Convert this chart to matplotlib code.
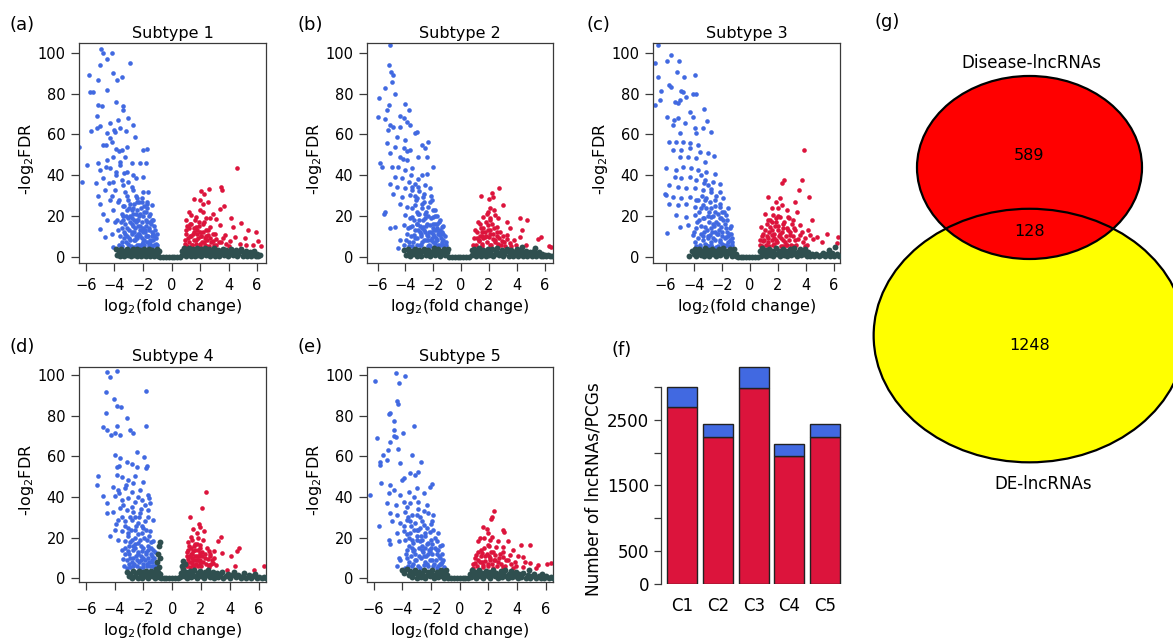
import matplotlib
matplotlib.use("Agg")
import matplotlib.pyplot as plt
from matplotlib.patches import Ellipse
import numpy as np

# ------------------------------------------------------------------ data
subtype_titles = ["Subtype 1", "Subtype 2", "Subtype 3", "Subtype 4", "Subtype 5"]
panel_letters = ["(a)", "(b)", "(c)", "(d)", "(e)", "(f)", "(g)"]
x_ticks = [-6, -4, -2, 0, 2, 4, 6]
y_ticks = [0, 20, 40, 60, 80, 100]

s1_blue = [(-4.98,102),(-4.79,99.7),(-4.2,99.7),(-4.56,96.7),(-5.0,94),(-2.92,94.8),(-5.79,88.9),(-5.14,86.6),(-4.09,90),(-3.8,86.6),(-3.5,88.2),(-5.72,80.9),(-5.49,80.9),(-4.51,81.7),(-5.14,74.3),(-4.91,73.9),(-3.86,76),(-3.43,73.9),(-3.39,71.9),(-5.21,69),(-5.68,61.6),(-5.02,64),(-4.32,65.4),(-3.74,67),(-3.08,67.8),(-2.69,64.5),(-3.62,63),(-3.2,61.8),(-4.56,60.5),(-3.97,61.3),(-6.5,54),(-4.6,55),(-4.2,56.4),(-3.86,53),(-3.5,52.3),(-3.15,54),(-2.57,58.8),(-1.99,52.3),(-1.75,52.6),(-5.14,46),(-5.96,45),(-6.31,36.8),(-4.56,47.4),(-4.09,49),(-3.62,46.6),(-3.27,49),(-2.8,45.8),(-2.22,45.8),(-1.8,46),(-5.02,42.5),(-4.32,43.3),(-3.86,41.7),(-3.15,41.7),(-2.69,40),(-2.03,39.2),(-4.79,38.4),(-4.09,36.8),(-3.5,37.6),(-3.04,36.8),(-2.5,38.4),(-5.3,36),(-5.14,29.7),(-4.67,32.7),(-3.97,32.7),(-3.27,31.9),(-2.69,32.7),(-1.99,31.9),(-1.64,31.9),(-5.02,26),(-4.32,27.8),(-3.74,27),(-3.04,27.8),(-2.45,28.6),(-1.75,26),(-1.4,25.3),(-4.79,21.2),(-4.09,22.9),(-3.5,21.2),(-2.8,22.9),(-2.22,21.2),(-1.52,21.2),(-5.02,13.4),(-4.56,18),(-3.97,17.2),(-3.39,18),(-2.92,17.2),(-2.34,18),(-1.75,17.2),(-1.4,18),(-4.67,9.8),(-4.2,11.4),(-3.74,13),(-3.27,11.4),(-2.8,12.2),(-2.34,11.4),(-1.87,13),(-1.28,11.4),(-4.09,4.9),(-3.5,7.4),(-3.04,6.5),(-2.57,8.2),(-2.1,6.5),(-1.52,7.4),(-1.05,5.7),(-3.4,25),(-3.2,20),(-3.0,24),(-2.8,19),(-2.6,26),(-2.4,23),(-2.2,15),(-2.0,20),(-1.8,22),(-1.6,14),(-1.4,10),(-3.5,14),(-3.3,9),(-3.1,14),(-2.9,8),(-2.7,15),(-2.5,10),(-2.3,6),(-2.1,13),(-1.9,8),(-1.7,10),(-1.5,6),(-1.3,8),(-1.1,9),(-3.6,10),(-3.0,4.8),(-2.6,5),(-2.0,4.7),(-1.6,4.9),(-3.8,18),(-3.7,28),(-3.4,35),(-3.1,30),(-2.8,34),(-2.5,30),(-2.3,27),(-2.1,29),(-1.9,25),(-1.7,27),(-2.7,21),(-2.4,18),(-2.2,10),(-2.0,12),(-1.8,15),(-1.5,17),(-1.2,15),(-3.3,41),(-3.6,45),(-3.9,40),(-4.2,30),(-4.4,36),(-4.6,44),(-4.8,55),(-5.2,63),(-4.3,58),(-4.0,62),(-3.7,52)]
s1_blue_core = [(-3.65,6),(-3.55,17),(-3.45,5.5),(-3.4,20),(-3.35,12),(-3.25,16),(-3.2,7),(-3.15,23),(-3.1,10),(-3.05,19),(-2.95,13),(-2.9,26),(-2.85,5.2),(-2.75,11),(-2.7,24),(-2.65,18),(-2.6,8),(-2.55,14),(-2.5,21),(-2.45,6),(-2.4,27),(-2.35,15),(-2.3,11),(-2.25,20),(-2.2,5.5),(-2.15,24),(-2.1,17),(-2.05,9),(-2.0,14),(-1.95,22),(-1.9,5.8),(-1.85,12),(-1.8,18),(-1.75,7),(-1.7,24),(-1.65,10),(-1.6,20),(-1.55,13),(-1.5,8),(-1.45,16),(-1.4,5.3),(-1.35,12),(-1.3,18),(-1.25,6),(-1.2,10),(-1.15,13),(-1.1,6.5),(-1.05,11),(-3.0,9),(-2.8,16),(-2.6,12),(-2.4,9),(-2.2,13),(-2.0,7),(-1.8,10),(-1.6,6),(-3.3,25),(-2.9,20),(-2.5,17),(-2.1,27)]
s1_red = [(4.6,43.6),(3.5,34.3),(3.55,32.7),(2.64,33),(2.06,32.2),(2.27,31),(1.57,28.3),(1.99,27.8),(2.22,25.8),(2.57,27),(3.69,25),(3.39,23.2),(1.99,22.9),(2.22,22),(2.92,21.2),(1.4,20.4),(1.75,19.6),(2.45,18.8),(3.1,18.3),(4.2,18.8),(4.91,16.7),(1.05,18),(1.29,16.3),(1.75,14.7),(2.22,16.3),(2.69,14.7),(3.39,15.5),(4.32,14.7),(5.37,13),(5.96,12.2),(1.05,13),(1.52,11.4),(1.99,12.2),(2.57,10.6),(3.04,11.4),(3.74,10.6),(4.44,9.8),(5.14,9),(6.07,7.8),(1.17,9),(1.75,8.2),(2.34,9),(2.92,7.8),(3.5,7.4),(4.09,7.8),(4.79,6.5),(5.72,5.7),(6.3,5.2),(0.93,6.5),(1.47,5.7),(1.99,6.2),(2.45,5.2),(3.15,5.7),(3.85,6.2),(5.26,5.6),(1.3,10),(1.6,14),(1.9,17),(2.1,10),(2.4,13),(1.2,22),(2.7,19),(1.8,11),(2.3,7),(1.1,15)]
s1_red_core = [(0.95,8),(1.05,11),(1.1,5.5),(1.2,14),(1.25,7),(1.35,10),(1.4,16),(1.45,6),(1.55,12),(1.6,8),(1.65,18),(1.75,6.5),(1.8,13),(1.85,9),(1.95,15),(2.0,5.3),(2.05,10),(2.15,7),(2.2,12),(2.25,17),(2.35,6),(2.4,10),(2.5,8),(2.55,13),(2.65,5.5),(2.7,9),(2.8,7),(2.9,11),(3.0,6),(3.1,8.5),(3.3,7),(3.6,9),(4.0,5.5)]
s1_gray = [(-3.9,3.6),(-3.8,1.0),(-3.7,2.4),(-3.6,0.2),(-3.55,3.9),(-3.45,1.6),(-3.35,3.0),(-3.3,0.4),(-3.2,2.2),(-3.1,3.8),(-3.05,0.9),(-2.95,2.9),(-2.85,0.2),(-2.8,1.8),(-2.7,3.6),(-2.6,0.8),(-2.55,2.6),(-2.45,4.0),(-2.4,0.3),(-2.3,1.7),(-2.2,3.2),(-2.15,0.6),(-2.05,2.4),(-1.95,3.9),(-1.9,1.1),(-1.8,0.2),(-1.75,2.8),(-1.65,1.6),(-1.6,4.0),(-1.5,0.5),(-1.45,2.3),(-1.35,3.4),(-1.3,1.2),(-1.2,0.2),(-1.15,2.6),(-1.05,3.9),(-1.0,1.5),(-0.95,0.4),(-0.9,2.8),(-0.8,0),(-0.6,0),(-0.4,0),(-0.2,0),(0.0,0),(0.2,0),(0.4,0),(0.6,0),(0.72,3.0),(0.75,0.8),(0.85,4.2),(0.9,1.8),(1.0,0.2),(1.05,3.2),(1.15,1.2),(1.25,4.3),(1.3,2.4),(1.4,0.5),(1.5,3.6),(1.55,1.6),(1.65,0.2),(1.7,2.8),(1.8,4.2),(1.85,1.0),(1.95,2.2),(2.05,3.8),(2.1,0.4),(2.2,1.6),(2.3,3.0),(2.35,4.3),(2.45,0.8),(2.55,2.2),(2.65,3.8),(2.7,0.2),(2.8,1.4),(2.9,3.0),(3.0,4.1),(3.05,0.6),(3.15,2.0),(3.25,3.4),(3.35,0.2),(3.4,1.4),(3.5,2.8),(3.6,4.0),(3.65,0.8),(3.75,2.0),(3.85,3.4),(3.95,0.3),(4.0,1.6),(4.1,2.8),(4.2,4.0),(4.3,0.8),(4.4,2.0),(4.5,3.2),(4.6,0.2),(4.7,1.4),(4.8,2.6),(4.9,3.6),(5.0,0.6),(5.1,1.8),(5.2,2.8),(5.3,0.2),(5.4,1.2),(5.5,2.4),(5.6,0.6),(5.7,1.8),(5.8,3.0),(5.9,0.3),(6.0,1.4),(6.1,0.4),(6.2,0.9)]

s2_blue = [(-5.1,103.8),(-5.2,94),(-5.04,90.7),(-4.86,89),(-5.0,85.8),(-5.5,82.5),(-5.93,77.6),(-4.74,80),(-4.02,75),(-5.17,74.3),(-6.0,68.6),(-5.45,67.3),(-5.33,71.9),(-4.38,69),(-4.14,67.8),(-3.78,71.9),(-5.1,64.5),(-4.86,63.7),(-4.38,63.7),(-3.9,66.2),(-3.66,64.5),(-3.3,60.5),(-3.18,61.3),(-5.28,62),(-4.62,58.8),(-4.02,57.2),(-2.35,56.4),(-2.83,54.7),(-5.33,55.6),(-4.74,53.9),(-4.14,53.1),(-3.66,52.3),(-2.59,53.1),(-3.07,49),(-5.1,50.7),(-4.38,49),(-3.9,47.4),(-2.47,49),(-1.99,44.1),(-5.81,45.8),(-5.69,44.1),(-4.98,44.1),(-4.5,44.1),(-4.02,42.5),(-3.54,43.3),(-2.83,40),(-2.47,40.8),(-4.74,39.2),(-4.26,38.4),(-3.78,36.8),(-3.3,35.9),(-5.1,35.9),(-4.62,34.3),(-4.02,33.5),(-3.54,32.7),(-3.07,34.3),(-2.23,33.5),(-4.86,31),(-4.26,29.4),(-3.66,30.2),(-3.18,28.6),(-2.71,29.4),(-2.11,27.8),(-5.45,22),(-5.52,21.2),(-4.38,26.1),(-3.9,24.5),(-3.3,25.3),(-2.83,23.7),(-2.35,24.5),(-1.87,22.9),(-4.02,20.4),(-3.54,19.6),(-3.07,21.2),(-2.59,18.8),(-1.99,19.6),(-1.51,18),(-5.13,13.9),(-4.74,14.7),(-4.14,15.5),(-3.66,14.7),(-3.18,16.3),(-2.71,14.7),(-2.23,15.5),(-1.75,13.9),(-1.39,14.7),(-3.9,11.4),(-3.42,10.6),(-2.95,12.2),(-2.47,10.6),(-1.99,11.4),(-1.51,10.6),(-4.38,8.2),(-3.78,7.4),(-3.3,9),(-2.83,7.4),(-2.35,8.2),(-1.87,7.4),(-1.27,8.2),(-4.5,4.4),(-4.14,5.7),(-3.54,5.2),(-2.95,5.7),(-2.23,5.2),(-1.63,5.7),(-1.09,5.7),(-3.2,22),(-3.0,18),(-2.8,26),(-2.6,12),(-2.4,20),(-2.2,12),(-2.0,16),(-1.8,9),(-1.6,12),(-1.4,6),(-3.4,18),(-3.1,13),(-2.9,10),(-2.7,8),(-2.5,15),(-2.3,6),(-2.1,9),(-1.9,20),(-1.7,16),(-1.3,11),(-3.3,30),(-3.0,32),(-2.7,27),(-3.6,40),(-3.9,52),(-4.2,48),(-3.5,15),(-3.2,6),(-2.6,21),(-2.0,7)]
s2_blue_core = [(-3.95,8),(-3.85,14),(-3.75,5.5),(-3.65,19),(-3.6,10),(-3.5,24),(-3.45,7),(-3.35,13),(-3.25,28),(-3.2,16),(-3.15,9),(-3.05,21),(-2.95,15),(-2.9,6),(-2.85,11),(-2.75,18),(-2.7,31),(-2.65,13),(-2.55,8),(-2.5,22),(-2.45,16),(-2.4,5.5),(-2.3,12),(-2.25,27),(-2.2,19),(-2.15,8),(-2.05,14),(-2.0,23),(-1.95,10),(-1.9,6),(-1.85,16),(-1.8,13),(-1.75,20),(-1.7,8),(-1.65,11),(-1.6,17),(-1.55,6),(-1.5,13),(-1.45,9),(-1.4,12),(-1.35,7),(-1.3,15),(-1.2,6),(-1.15,10),(-1.1,7),(-3.55,34),(-3.1,38),(-2.6,35),(-2.2,30),(-2.8,14),(-2.35,10),(-1.95,13)]
s2_red = [(2.68,33.8),(2.18,31.4),(2.3,29.4),(1.4,29.9),(2.02,28.1),(3.02,25.3),(2.06,23.7),(2.35,22.9),(1.83,21.2),(2.42,20.4),(4.21,18.8),(4.74,18),(1.59,19.6),(2.06,18),(2.66,18.8),(3.26,17.2),(1.35,16.3),(1.95,15.5),(2.54,14.7),(3.49,13.9),(4.33,13),(0.99,13),(1.47,12.2),(2.06,11.4),(2.78,12.2),(3.26,10.6),(4.21,9.8),(5.52,8.5),(5.76,9.5),(1.11,9),(1.71,9.5),(2.3,8.5),(2.9,7.8),(3.49,6.9),(3.97,6),(4.68,5.7),(6.3,5.2),(6.48,4.6),(0.87,5.7),(1.47,6.5),(2.06,5.7),(2.66,6.5),(3.14,5.2),(1.3,8),(1.6,14),(1.8,10),(2.2,16),(2.4,7),(2.6,10),(1.2,17),(1.9,22),(2.1,13),(1.5,10)]
s2_red_core = [(0.95,9),(1.05,6),(1.15,12),(1.25,7.5),(1.35,10),(1.45,14),(1.5,5.5),(1.6,9),(1.7,12),(1.75,17),(1.85,7),(1.9,13),(2.0,9.5),(2.1,19),(2.15,6),(2.25,11),(2.35,14),(2.45,8),(2.55,12),(2.65,5.5),(2.75,9),(2.85,6),(3.0,10),(3.1,7),(3.3,8.5),(3.6,5.5),(3.8,8)]
s2_gray = [(-4.1,3.2),(-3.95,1.0),(-3.85,3.8),(-3.75,2.0),(-3.65,0.3),(-3.55,3.0),(-3.45,1.2),(-3.35,4.0),(-3.25,2.2),(-3.15,0.4),(-3.05,3.4),(-2.95,1.5),(-2.85,0.2),(-2.75,2.6),(-2.65,4.0),(-2.55,0.9),(-2.45,2.0),(-2.35,3.5),(-2.25,0.3),(-2.15,1.6),(-2.05,3.0),(-1.95,4.1),(-1.85,0.7),(-1.75,2.2),(-1.65,3.6),(-1.55,0.2),(-1.45,1.4),(-1.35,2.8),(-1.25,4.0),(-1.15,0.8),(-1.05,2.2),(-0.98,3.6),(-0.85,0),(-0.65,0),(-0.45,0),(-0.25,0),(-0.05,0),(0.15,0),(0.35,0),(0.55,0),(0.75,3.2),(0.8,1.0),(0.9,4.0),(0.95,2.0),(1.05,0.2),(1.15,3.0),(1.2,1.2),(1.3,4.2),(1.4,2.2),(1.45,0.4),(1.55,3.4),(1.65,1.4),(1.75,0.2),(1.8,2.6),(1.9,4.0),(2.0,1.0),(2.1,2.2),(2.2,3.6),(2.3,0.4),(2.4,1.6),(2.5,3.0),(2.6,4.1),(2.7,0.8),(2.8,2.0),(2.9,3.4),(3.0,0.2),(3.1,1.4),(3.2,2.8),(3.3,4.0),(3.4,0.6),(3.5,1.8),(3.6,3.2),(3.7,0.2),(3.8,1.2),(3.9,2.6),(4.0,3.8),(4.1,0.6),(4.2,1.8),(4.3,3.0),(4.4,4.8),(4.45,0.3),(4.55,1.4),(4.65,2.6),(4.75,0.2),(4.85,1.2),(4.95,2.2),(5.05,0.5),(5.15,1.6),(5.25,3.0),(5.3,4.4),(5.4,0.3),(5.5,1.2),(5.6,2.2),(5.7,0.5),(5.8,1.4),(5.9,0.2),(6.0,1.0),(6.1,0.3),(6.25,0.8),(6.4,0.2),(6.5,0.6)]

s3_blue = [(-6.55,103.8),(-6.79,94.8),(-6.55,88.2),(-5.88,95.9),(-5.6,98.9),(-5.05,95.9),(-5.19,90.7),(-4.69,88.2),(-3.88,88.9),(-6.31,81.4),(-5.76,84.2),(-5.6,83.3),(-4.88,81.4),(-4.76,80.9),(-4.57,78.4),(-4.05,80),(-3.86,79.7),(-6.79,74.3),(-6.43,76.8),(-5.36,76),(-5.12,75.2),(-5.0,76.8),(-3.29,72.2),(-4.29,71.1),(-5.9,68.6),(-5.4,67),(-5.12,67.8),(-4.05,68.6),(-4.64,65.4),(-5.48,64.5),(-3.02,66.7),(-3.33,62.9),(-3.93,62.9),(-2.74,61.3),(-5.0,60.5),(-3.81,60.5),(-5.76,56.4),(-5.24,56.4),(-4.76,56.4),(-4.29,55.6),(-3.69,54.7),(-5.48,52.3),(-4.88,52.3),(-4.29,53.1),(-3.57,51.5),(-2.98,50.7),(-5.0,49),(-4.4,49),(-3.81,48.2),(-3.21,46.6),(-2.57,49.3),(-6.0,43.3),(-5.24,42.5),(-4.76,44.1),(-4.17,43.3),(-3.69,42.5),(-3.1,41.7),(-2.5,40.8),(-5.36,39.2),(-4.88,38.4),(-4.29,39.2),(-3.81,37.6),(-3.21,37.6),(-2.62,36.8),(-2.14,35.9),(-5.76,35.1),(-5.12,34.3),(-4.52,33.5),(-3.93,33.5),(-3.33,32.7),(-2.74,31.9),(-2.14,31.9),(-6.07,31),(-6.0,30.2),(-5.48,29.4),(-4.88,28.6),(-4.29,29.4),(-3.69,27.8),(-3.1,28.6),(-2.5,27.8),(-1.9,28.6),(-5.76,26.1),(-5.12,25.3),(-4.52,26.1),(-3.93,24.5),(-3.33,25.3),(-2.74,23.7),(-2.14,24.5),(-1.55,23.7),(-5.24,20.4),(-4.52,19.6),(-3.93,20.4),(-3.33,18.8),(-2.74,19.6),(-2.14,18.8),(-1.67,20.4),(-5.0,14.7),(-4.4,15.5),(-3.81,13.9),(-3.21,14.7),(-2.62,16.3),(-2.02,14.7),(-1.43,13.9),(-5.9,11.8),(-4.05,10.6),(-3.45,11.4),(-2.86,10.6),(-2.26,11.4),(-1.67,9.8),(-1.31,11.4),(-3.93,7.4),(-3.33,8.2),(-2.74,7.4),(-2.14,8.2),(-1.55,7.4),(-3.57,4.9),(-2.98,5.2),(-2.38,4.9),(-1.79,5.2),(-1.24,5.7),(-3.6,18),(-3.3,12),(-3.0,20),(-2.8,14),(-2.6,9),(-2.4,17),(-2.2,13),(-2.0,10),(-1.8,16),(-1.6,12),(-1.4,8),(-3.5,24),(-3.2,28),(-2.9,22),(-2.5,25),(-2.3,21),(-1.9,18),(-1.7,6),(-3.1,6),(-2.7,4.8),(-3.0,35),(-3.5,40),(-2.4,30),(-2.0,22)]
s3_blue_core = [(-3.95,12),(-3.85,5.5),(-3.75,17),(-3.7,9),(-3.6,22),(-3.55,6),(-3.45,15),(-3.4,30),(-3.35,10),(-3.25,19),(-3.2,6.5),(-3.15,24),(-3.05,13),(-2.95,9),(-2.9,17),(-2.85,27),(-2.8,6),(-2.7,12),(-2.65,20),(-2.55,15),(-2.5,8),(-2.45,22),(-2.35,11),(-2.3,5.5),(-2.25,16),(-2.15,26),(-2.1,7),(-2.05,19),(-1.95,12),(-1.9,6),(-1.85,22),(-1.75,9),(-1.7,14),(-1.6,18),(-1.55,10),(-1.5,5.5),(-1.45,11),(-1.35,15),(-1.3,7),(-1.25,9),(-3.85,28),(-3.3,36),(-2.8,33),(-2.45,12),(-2.0,6.5),(-3.0,10)]
s3_red = [(3.86,52.3),(3.69,37.6),(2.43,37.6),(2.33,36.3),(3.52,32.7),(4.19,29.4),(1.31,29.4),(2.14,28.6),(1.9,27),(3.21,27),(2.26,25.3),(1.55,23.7),(2.02,23.7),(2.62,22.9),(3.33,22),(1.07,21.2),(1.67,20.4),(2.14,19.6),(2.74,19.6),(3.1,18),(4.45,18),(1.31,18),(1.9,17.2),(2.38,16.3),(2.98,16.3),(3.57,15.5),(0.83,14.7),(1.43,14.7),(2.02,13),(2.62,13.9),(3.21,13),(4.17,13),(0.95,11.4),(1.55,10.6),(2.14,11.4),(2.86,10.6),(3.57,10.6),(4.29,10.6),(4.81,9.5),(5.52,11.1),(6.31,9.5),(0.71,8.2),(1.31,7.4),(1.9,8.2),(2.5,7.4),(3.21,8.2),(3.81,7.4),(4.52,8.5),(5.12,7.4),(6.19,6.9),(0.9,5.2),(1.67,5.7),(2.38,5.2),(3.1,5.2),(3.93,5.2),(1.4,12),(1.7,9),(1.8,15),(2.0,20),(2.2,9),(2.4,14),(2.6,6),(1.2,10),(2.8,19),(1.6,17),(1.0,8),(2.9,12)]
s3_red_core = [(0.75,6),(0.85,10),(0.95,7.5),(1.05,13),(1.15,6),(1.2,16),(1.3,9),(1.4,5.5),(1.45,18),(1.55,8),(1.6,13),(1.7,6.5),(1.75,11),(1.85,19),(1.95,7),(2.0,15),(2.1,10),(2.2,5.5),(2.3,12),(2.4,8),(2.45,17),(2.55,10),(2.65,6),(2.7,13),(2.8,8),(2.95,6),(3.05,10),(3.15,14),(3.3,6),(3.45,8.5),(3.7,12),(3.9,9),(4.1,6)]
s3_gray = [(-4.3,0.6),(-4.15,2.8),(-4.0,1.2),(-3.9,3.8),(-3.8,0.2),(-3.7,2.2),(-3.6,4.0),(-3.5,1.0),(-3.4,2.8),(-3.3,0.3),(-3.2,4.2),(-3.1,1.8),(-3.0,3.2),(-2.9,0.6),(-2.8,2.2),(-2.7,4.0),(-2.6,1.2),(-2.5,3.0),(-2.4,0.2),(-2.3,1.8),(-2.2,3.8),(-2.1,0.8),(-2.0,2.6),(-1.9,4.2),(-1.8,1.4),(-1.7,0.2),(-1.6,3.0),(-1.5,1.8),(-1.4,4.0),(-1.3,0.6),(-1.2,2.4),(-1.1,3.6),(-1.0,1.2),(-0.95,0.2),(-0.85,0),(-0.65,0),(-0.45,0),(-0.25,0),(-0.05,0),(0.15,0),(0.35,0),(0.55,0),(0.72,2.6),(0.78,0.6),(0.85,4.4),(0.95,1.6),(1.05,3.2),(1.15,0.2),(1.25,2.2),(1.35,4.0),(1.45,1.0),(1.55,3.0),(1.65,0.3),(1.75,2.0),(1.85,4.2),(1.95,1.2),(2.05,3.0),(2.15,0.4),(2.25,2.2),(2.35,4.0),(2.45,1.0),(2.55,2.8),(2.65,0.2),(2.75,1.8),(2.85,3.8),(2.95,0.8),(3.05,2.6),(3.15,4.2),(3.25,1.4),(3.35,0.2),(3.45,2.2),(3.55,3.8),(3.65,0.8),(3.75,2.8),(3.85,1.6),(3.95,4.0),(4.05,0.4),(4.15,2.2),(4.3,0.6),(4.45,1.6),(4.6,0.3),(4.75,1.2),(4.9,0.2),(5.05,0.9),(5.2,1.8),(5.35,0.3),(5.5,1.2),(5.65,3.4),(5.7,0.4),(5.85,2.0),(6.0,0.6),(6.1,4.6),(6.2,1.2),(6.35,0.3)]

s4_blue = [(-4.56,101.3),(-3.86,102.1),(-4.33,98.9),(-4.63,91.8),(-1.85,92.1),(-4.03,88.1),(-3.86,84.8),(-3.58,84.5),(-4.61,81.5),(-3.17,79),(-1.85,75.1),(-4.79,74.3),(-4.51,73),(-3.86,75),(-4.26,70.5),(-3.96,71.7),(-3.63,70.5),(-2.93,73),(-2.7,71.4),(-3.98,60.7),(-3.63,59.4),(-2.47,62.4),(-1.94,59.9),(-3.86,55),(-3.67,55.3),(-3.17,57.4),(-2.82,56.3),(-2.47,55),(-1.78,55.3),(-1.85,54.5),(-5.14,50.4),(-5.19,46),(-3.86,50.9),(-3.51,50.1),(-3.05,48.4),(-2.7,46.8),(-2.59,50.6),(-2.05,47.6),(-4.79,40.3),(-4.56,37),(-4.56,32.1),(-4.33,20.9),(-4.1,45.2),(-3.74,43.5),(-3.28,44.4),(-2.82,42.7),(-2.24,43.5),(-1.66,41.1),(-1.59,39.4),(-3.98,40.3),(-3.51,38.6),(-3.05,39.4),(-2.59,37.8),(-2.12,38.6),(-1.54,37),(-4.1,32.9),(-3.63,34.5),(-3.17,33.7),(-2.7,32.9),(-2.24,32.1),(-1.66,33.7),(-1.36,28.8),(-3.74,28.8),(-3.28,28),(-2.82,28.8),(-2.35,27.2),(-1.89,28),(-3.98,23.9),(-3.51,23.1),(-3.05,22.3),(-2.59,23.9),(-2.12,22.3),(-1.54,23.1),(-3.74,19),(-3.28,18.2),(-2.82,19),(-2.35,17.3),(-1.78,19),(-1.31,18.2),(-3.51,14.1),(-3.05,13.3),(-2.59,14.9),(-2.12,13.3),(-1.66,14.1),(-3.44,9.5),(-2.93,10),(-2.47,9.2),(-2.01,10),(-1.43,9.2),(-3.17,5.1),(-2.7,5.9),(-2.24,5.1),(-1.78,5.9),(-1.27,5.6),(-3.3,12),(-3.0,16),(-2.8,8),(-2.6,20),(-2.4,12),(-2.2,16),(-2.0,7),(-1.8,12),(-1.6,8),(-1.4,11),(-3.1,25),(-2.9,30),(-2.5,26),(-2.3,30),(-2.0,25),(-3.4,36),(-3.7,42),(-3.2,46),(-3.5,30),(-3.9,27),(-2.7,16),(-2.2,9),(-1.5,15),(-3.0,7)]
s4_blue_core = [(-3.35,6),(-3.25,15),(-3.15,9),(-3.1,21),(-3.0,12),(-2.95,5.5),(-2.9,18),(-2.85,24),(-2.75,10),(-2.7,14),(-2.65,7),(-2.6,30),(-2.55,17),(-2.5,11),(-2.45,6),(-2.4,22),(-2.35,13),(-2.3,8),(-2.25,19),(-2.15,11),(-2.1,26),(-2.05,15),(-2.0,5.5),(-1.95,20),(-1.9,9),(-1.85,13),(-1.8,24),(-1.75,7),(-1.7,16),(-1.65,10),(-1.6,21),(-1.55,6),(-1.5,12),(-1.45,18),(-1.4,8),(-1.35,14),(-1.3,6),(-1.25,10),(-1.2,13),(-1.15,7),(-2.8,35),(-2.4,40),(-1.9,36),(-1.7,30),(-2.2,34),(-3.3,26)]
s4_red = [(2.33,42.7),(2.05,34.5),(1.24,30.1),(1.89,26.8),(1.94,25.5),(1.47,24.2),(2.22,23.1),(1.7,22.3),(3.4,20.3),(1.29,20.6),(1.82,19.8),(2.17,19),(3.21,18.2),(1.12,17.7),(1.59,17),(1.94,16.5),(2.4,14.9),(2.93,13.7),(4.67,15.2),(1.12,14.1),(1.47,13.3),(1.94,12.4),(2.52,13.3),(3.45,12.4),(4.07,11.1),(4.49,13.3),(1.01,10.8),(1.36,10),(1.82,9.2),(2.28,10),(2.75,9.2),(1.01,7.5),(1.47,6.7),(1.94,7.5),(2.52,6.7),(3.05,6.7),(4.37,6.2),(6.35,6.2),(3.8,4.3),(5.65,4.3),(1.3,12),(1.5,16),(1.7,11),(1.2,8),(1.6,9),(1.4,19),(1.8,14),(2.6,11),(2.7,7),(2.1,11)]
s4_red_core = [(1.0,13),(1.05,6),(1.1,9.5),(1.15,16),(1.2,11),(1.25,5.5),(1.3,15),(1.35,7.5),(1.4,12),(1.45,9),(1.5,5.5),(1.55,14),(1.6,11),(1.65,7),(1.7,17),(1.75,9),(1.8,6),(1.85,11),(1.9,15),(1.95,9),(2.0,6),(2.05,13),(2.15,8),(2.25,12),(2.35,7),(2.45,9.5),(2.55,5.5),(2.65,12),(2.8,7.5),(2.9,10)]
s4_gray = [(-3.15,3.0),(-3.0,1.0),(-2.9,2.4),(-2.8,0.2),(-2.7,3.6),(-2.6,1.4),(-2.5,2.8),(-2.4,0.4),(-2.3,3.8),(-2.2,1.8),(-2.1,0.2),(-2.0,3.0),(-1.9,1.2),(-1.8,3.8),(-1.7,0.4),(-1.6,2.4),(-1.5,3.6),(-1.4,1.0),(-1.3,2.8),(-1.2,0.2),(-1.15,4.5),(-1.1,1.8),(-1.05,8.0),(-1.0,3.2),(-0.98,12.0),(-0.95,0.6),(-0.92,16.0),(-0.9,5.6),(-0.87,10.0),(-0.85,2.4),(-0.82,18.0),(-0.8,0),(-0.6,0),(-0.4,0),(-0.2,0),(0.0,0),(0.2,0),(0.4,0),(0.55,0.6),(0.62,2.6),(0.68,6.0),(0.72,8.6),(0.78,4.4),(0.82,1.2),(0.88,7.0),(0.95,3.0),(1.0,0.3),(1.1,2.0),(1.2,3.6),(1.3,0.8),(1.4,2.6),(1.5,4.0),(1.6,1.4),(1.7,0.2),(1.8,2.8),(1.9,3.8),(2.0,1.0),(2.1,2.2),(2.2,0.3),(2.3,3.4),(2.4,1.6),(2.5,4.0),(2.6,0.6),(2.7,2.2),(2.8,3.2),(2.9,0.2),(3.0,1.4),(3.1,2.6),(3.2,0.5),(3.3,1.8),(3.45,3.0),(3.55,0.3),(3.7,1.4),(3.85,2.4),(4.0,0.4),(4.15,1.6),(4.3,3.2),(4.45,0.6),(4.6,1.8),(4.75,0.2),(4.9,1.2),(5.0,2.6),(5.15,0.4),(5.3,1.6),(5.45,0.2),(5.6,1.0),(5.75,2.2),(5.9,0.3),(6.05,0.8),(6.2,0.2),(6.35,0.5),(6.5,0.2)]

s5_blue = [(-4.47,101.1),(-3.84,99.5),(-4.21,95.9),(-5.93,97.2),(-4.38,87.4),(-4.33,85.8),(-4.88,81.5),(-4.95,80.9),(-4.56,77.4),(-3.17,75),(-5.76,68.9),(-4.61,73),(-4.61,70),(-4.42,69.4),(-4.84,67.3),(-3.96,71.4),(-5.02,63.2),(-4.33,63.5),(-5.35,60.7),(-5.53,57.4),(-5.07,58.3),(-5.58,55.8),(-4.14,56.6),(-3.33,60.7),(-2.69,57.1),(-5.49,47.1),(-6.23,41.1),(-4.88,46),(-4.03,48.4),(-3.91,49.3),(-3.45,51.7),(-2.87,52.5),(-3.1,50.9),(-1.94,46.5),(-2.06,45.2),(-4.95,41.9),(-4.61,43.5),(-4.14,41.1),(-3.56,42.7),(-2.99,44.4),(-2.52,41.9),(-5.07,37),(-4.42,36.2),(-3.91,37.8),(-3.45,37),(-2.87,37.8),(-2.29,36.2),(-5.65,25.9),(-4.84,32.1),(-4.38,31.3),(-3.8,32.9),(-3.33,31.3),(-2.75,30.4),(-2.18,32.1),(-1.83,31.3),(-4.72,28),(-4.14,27.2),(-3.68,28.8),(-3.1,27.2),(-2.52,26.4),(-1.94,28),(-4.95,18.7),(-4.84,17),(-4.38,22.3),(-3.91,23.1),(-3.45,22.3),(-2.87,23.9),(-2.41,22.3),(-1.83,23.9),(-1.48,22.3),(-4.26,18.2),(-3.8,19),(-3.22,17.3),(-2.75,18.2),(-2.18,17.3),(-1.6,18.2),(-1.25,16.5),(-4.26,10),(-4.14,9.2),(-4.38,5.9),(-3.68,14.1),(-3.22,13.3),(-2.64,14.1),(-2.06,13.3),(-1.48,14.1),(-3.68,10),(-3.1,9.2),(-2.52,10.8),(-1.94,9.2),(-1.37,10),(-3.8,5.1),(-3.33,5.9),(-2.75,5.1),(-2.18,5.9),(-1.6,5.1),(-1.09,5.6),(-3.5,20),(-3.3,15),(-3.0,19),(-2.8,11),(-2.6,16),(-2.4,8),(-2.2,12),(-2.0,19),(-1.8,7),(-1.6,12),(-1.4,7),(-3.4,26),(-3.0,24),(-2.6,28),(-2.3,25),(-3.7,35),(-3.2,40),(-2.9,34),(-3.5,8),(-1.2,8),(-2.7,21),(-2.4,15),(-2.0,15),(-3.1,12)]
s5_blue_core = [(-3.75,12),(-3.65,22),(-3.6,6),(-3.55,16),(-3.45,28),(-3.4,11),(-3.35,19),(-3.25,7),(-3.2,24),(-3.15,14),(-3.05,9),(-2.95,21),(-2.9,6),(-2.85,15),(-2.75,25),(-2.7,10),(-2.65,19),(-2.55,13),(-2.5,6.5),(-2.45,21),(-2.35,11),(-2.3,17),(-2.25,7),(-2.15,14),(-2.1,23),(-2.05,9),(-1.95,17),(-1.9,12),(-1.85,6),(-1.75,15),(-1.7,20),(-1.65,9),(-1.55,14),(-1.5,6),(-1.45,11),(-1.35,16),(-1.3,7),(-1.25,12),(-1.15,9),(-3.6,30),(-3.0,31),(-2.5,33),(-2.0,27),(-3.9,26)]
s5_red = [(2.38,33.4),(2.29,30.4),(2.18,29.1),(1.64,25.5),(1.88,24.2),(1.99,22.3),(2.27,20.6),(3.03,23.9),(3.1,22.6),(1.41,19.8),(1.3,18.2),(2.11,19),(2.69,18.2),(3.38,18.2),(1.99,16.5),(2.57,15.4),(3.03,15.7),(3.73,14.1),(4.31,16.4),(4.93,16.5),(1.13,11.6),(1.53,12.4),(2.06,10.8),(2.45,11.6),(3.03,10.5),(3.5,11.6),(4.07,10.8),(4.42,10.5),(1.06,7.5),(1.53,8.3),(2.11,9.2),(2.69,7.9),(3.26,9.2),(3.84,8.3),(4.54,8.3),(4.88,7.5),(5.46,6.7),(6.09,7.2),(6.39,7.5),(0.95,5.1),(1.64,5.6),(2.34,5.1),(3.03,5.6),(3.73,5.1),(4.42,5.6),(5.35,5.1),(1.5,14),(1.8,11),(2.2,13),(2.4,9),(1.3,9),(2.8,12),(1.7,20),(2.0,7)]
s5_red_core = [(0.95,7),(1.05,10),(1.2,6),(1.3,13),(1.4,8),(1.5,11),(1.6,6.5),(1.7,15),(1.8,8.5),(1.9,12),(2.0,6),(2.05,16),(2.15,10),(2.25,7),(2.35,13),(2.5,9),(2.6,6),(2.75,10),(2.9,7),(3.0,13),(3.15,6),(3.35,9),(3.6,7),(3.9,6)]
s5_gray = [(-4.0,4.2),(-3.85,2.8),(-3.7,4.4),(-3.55,1.6),(-3.45,3.6),(-3.3,0.6),(-3.2,2.6),(-3.1,4.0),(-3.0,0.2),(-2.9,1.6),(-2.8,3.2),(-2.7,0.8),(-2.6,2.2),(-2.5,4.2),(-2.4,0.3),(-2.3,1.8),(-2.2,3.4),(-2.1,1.0),(-2.0,2.6),(-1.9,4.2),(-1.8,0.2),(-1.7,1.8),(-1.6,3.4),(-1.5,0.8),(-1.4,2.4),(-1.3,4.0),(-1.2,1.2),(-1.1,0.2),(-1.05,3.0),(-0.95,4.2),(-0.9,1.6),(-0.8,0),(-0.6,0),(-0.4,0),(-0.2,0),(0.0,0),(0.2,0),(0.4,0),(0.6,0),(0.72,2.2),(0.78,0.6),(0.85,4.0),(0.95,1.6),(1.05,3.0),(1.15,0.2),(1.25,2.2),(1.35,4.0),(1.45,1.0),(1.55,2.8),(1.65,0.3),(1.75,2.0),(1.85,3.8),(1.95,1.2),(2.05,3.0),(2.15,0.4),(2.25,2.2),(2.35,4.0),(2.45,1.0),(2.55,2.8),(2.65,0.2),(2.75,1.8),(2.85,3.6),(2.95,0.8),(3.05,2.6),(3.15,4.0),(3.25,1.4),(3.35,0.2),(3.45,2.2),(3.55,3.6),(3.65,0.8),(3.75,2.6),(3.85,1.4),(3.95,3.4),(4.05,0.4),(4.15,2.0),(4.3,0.6),(4.45,2.8),(4.6,0.3),(4.75,1.6),(4.85,4.2),(4.9,0.2),(5.05,1.2),(5.2,2.2),(5.35,0.3),(5.5,1.4),(5.65,0.4),(5.75,2.2),(5.9,0.3),(6.05,1.0),(6.2,0.2),(6.35,0.8),(6.5,0.2)]

bar_categories = ["C1", "C2", "C3", "C4", "C5"]
bar_red = [2690, 2230, 2975, 1950, 2230]
bar_blue = [310, 205, 330, 180, 205]
bar_yticks = [0, 500, 1000, 1500, 2000, 2500, 3000]
bar_yticklabels = ["0", "500", "", "1500", "", "2500", ""]

venn_only_disease = 589
venn_overlap = 128
venn_only_de = 1248
venn_set_names = ["Disease-lncRNAs", "DE-lncRNAs"]

# ------------------------------------------------------------------ style
BLUE = "#4169E1"
RED = "#DC143C"
GRAY = "#2F4F4F"
FRAME = "#3a3a3a"

plt.rcParams["font.family"] = ["DejaVu Sans"]
plt.rcParams["mathtext.fontset"] = "dejavusans"
plt.rcParams["mathtext.default"] = "regular"

W, H = 1173, 641
fig = plt.figure(figsize=(W / 100, H / 100), dpi=100)


def px_axes(l, t, r, b):
    return fig.add_axes([l / W, 1 - b / H, (r - l) / W, (b - t) / H])


def ftext(x, y, s, **kw):
    fig.text(x / W, 1 - y / H, s, **kw)


volcano = [
    (s1_blue + s1_blue_core, s1_red + s1_red_core, s1_gray, (79, 43.3, 266, 263.3), (-6.49, 6.63), (-3.2, 104.6), 5.0),
    (s2_blue + s2_blue_core, s2_red + s2_red_core, s2_gray, (367, 43.3, 553, 263.3), (-6.76, 6.59), (-3.2, 104.6), 5.0),
    (s3_blue + s3_blue_core, s3_red + s3_red_core, s3_gray, (653, 43.3, 840, 263.3), (-6.9, 6.43), (-3.2, 104.6), 5.0),
    (s4_blue + s4_blue_core, s4_red + s4_red_core, s4_gray, (79, 366.7, 266, 581.7), (-6.47, 6.51), (-1.6, 104.1), 9.0),
    (s5_blue + s5_blue_core, s5_red + s5_red_core, s5_gray, (367, 366.7, 553, 581.7), (-6.46, 6.51), (-1.6, 104.1), 9.0),
]
letter_pos = [(22, 25), (310, 25), (598, 25), (22, 347), (310, 347)]

for i, (blue, red, gray, box, xl, yl, xpad) in enumerate(volcano):
    l, t, r, b = box
    ax = px_axes(l, t, r, b)
    bx, by = zip(*blue)
    rx, ry = zip(*red)
    gx, gy = zip(*gray)
    ax.scatter(bx, by, s=11, c=BLUE, linewidths=0, zorder=2)
    ax.scatter(rx, ry, s=11, c=RED, linewidths=0, zorder=2)
    ax.scatter(gx, gy, s=18, c=GRAY, linewidths=0, zorder=3)
    ax.set_xlim(*xl)
    ax.set_ylim(*yl)
    ax.set_xticks(x_ticks)
    ax.set_yticks(y_ticks)
    for sp in ax.spines.values():
        sp.set_color(FRAME)
        sp.set_linewidth(0.9)
    ax.tick_params(axis="x", direction="out", length=5.8, width=0.9, color=FRAME,
                   labelsize=10.5, pad=xpad)
    ax.tick_params(axis="y", direction="out", length=5.8, width=0.9, color=FRAME,
                   labelsize=10.5, pad=4)
    ax.set_title(subtype_titles[i], fontsize=11.5, pad=4)
    cx = (l + r) / 2
    ftext(cx, b + (43.7 if i < 3 else 48.3), "log$_2$(fold change)", fontsize=11.5,
          ha="center", va="center")
    ftext(l - 52, (t + b) / 2 + 6, "-log$_2$FDR", fontsize=11.5, rotation=90,
          ha="center", va="center")
    lx, ly = letter_pos[i]
    ftext(lx, ly, panel_letters[i], fontsize=13, ha="center", va="center")

# ------------------------------------------------------------------ (f) bars
axf = px_axes(661, 355, 845, 584.3)
xpos = np.arange(len(bar_categories))
axf.bar(xpos, bar_red, width=0.84, color=RED, edgecolor="#222222", linewidth=1.0, zorder=2)
axf.bar(xpos, bar_blue, bottom=bar_red, width=0.84, color=BLUE, edgecolor="#222222",
        linewidth=1.0, zorder=2)
axf.set_xlim(-0.597, 4.557)
axf.set_ylim(0, 3481)
for s in ["top", "right", "bottom"]:
    axf.spines[s].set_visible(False)
axf.spines["left"].set_bounds(0, 3000)
axf.spines["left"].set_color(FRAME)
axf.spines["left"].set_linewidth(0.9)
axf.set_yticks(bar_yticks)
axf.set_yticklabels(bar_yticklabels)
axf.tick_params(axis="y", direction="out", length=5, width=0.9, color=FRAME,
                labelsize=12, pad=3.5)
axf.set_xticks(xpos)
axf.set_xticklabels(bar_categories)
axf.tick_params(axis="x", length=0, labelsize=12, pad=9)
ftext(593, 489.5, "Number of lncRNAs/PCGs", fontsize=12.2, rotation=90, ha="center", va="center")
ftext(622, 350, panel_letters[5], fontsize=13, ha="center", va="center")

# ------------------------------------------------------------------ (g) venn
n1 = venn_only_disease + venn_overlap
n2 = venn_only_de + venn_overlap
r1 = np.sqrt(n1 / np.pi)
r2 = np.sqrt(n2 / np.pi)


def lens_area(d, ra, rb):
    if d >= ra + rb:
        return 0.0
    if d <= abs(ra - rb):
        return np.pi * min(ra, rb) ** 2
    a1 = ra ** 2 * np.arccos((d * d + ra * ra - rb * rb) / (2 * d * ra))
    a2 = rb ** 2 * np.arccos((d * d + rb * rb - ra * ra) / (2 * d * rb))
    a3 = 0.5 * np.sqrt((-d + ra + rb) * (d + ra - rb) * (d - ra + rb) * (d + ra + rb))
    return a1 + a2 - a3


lo, hi = abs(r1 - r2), r1 + r2
for _ in range(200):
    mid = 0.5 * (lo + hi)
    if lens_area(mid, r1, r2) > venn_overlap:
        lo = mid
    else:
        hi = mid
dist = 0.5 * (lo + hi)

axg = px_axes(860, 0, 1173, 641)
axg.set_xlim(-22.76, 19.27)
axg.set_ylim(-78.17, 27.65)
axg.axis("off")
c_top = (0.0, 0.0)
c_bot = (0.0, -dist)
axg.add_patch(Ellipse(c_bot, 2 * r2, 2 * r2, facecolor="#FFFF00", edgecolor="none", zorder=1))
axg.add_patch(Ellipse(c_top, 2 * r1, 2 * r1, facecolor="#FF0000", edgecolor="none", zorder=2))
axg.add_patch(Ellipse(c_bot, 2 * r2, 2 * r2, facecolor="none", edgecolor="black", linewidth=1.6, zorder=3))
axg.add_patch(Ellipse(c_top, 2 * r1, 2 * r1, facecolor="none", edgecolor="black", linewidth=1.6, zorder=3))
axg.text(0.2, r1 + 2.15, venn_set_names[0], fontsize=12, ha="center", va="center")
axg.text(0.0, 2.06, str(venn_only_disease), fontsize=11.5, ha="center", va="center")
lens_mid = 0.5 * (-r1 + (-dist + r2))
axg.text(0.0, lens_mid + 0.35, str(venn_overlap), fontsize=11.5, ha="center", va="center")
axg.text(0.0, -dist - 1.7, str(venn_only_de), fontsize=11.5, ha="center", va="center")
axg.text(1.8, -dist - r2 - 3.65, venn_set_names[1], fontsize=12, ha="center", va="center")
ftext(887, 22, panel_letters[6], fontsize=13, ha="center", va="center")

fig.savefig("out.png", dpi=100)
